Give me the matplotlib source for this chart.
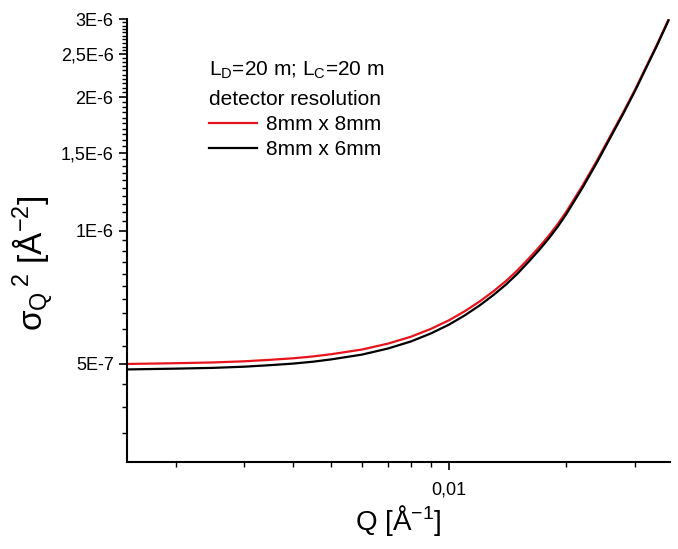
import numpy as np
import matplotlib
matplotlib.use("Agg")
import matplotlib.pyplot as plt
from matplotlib.ticker import FixedLocator, FixedFormatter, NullFormatter

# values
q = [0.0015, 0.002, 0.0025, 0.003, 0.0035, 0.004, 0.0045, 0.005, 0.006, 0.007,
     0.008, 0.009, 0.010, 0.011, 0.012, 0.013, 0.014, 0.015, 0.016, 0.017,
     0.018, 0.019, 0.020, 0.022, 0.024, 0.026, 0.028, 0.030, 0.032, 0.034, 0.0365]
sig_8x8 = [5.00e-7, 5.02e-7, 5.04e-7, 5.07e-7, 5.11e-7, 5.15e-7, 5.20e-7, 5.26e-7, 5.39e-7, 5.56e-7,
           5.76e-7, 6.00e-7, 6.27e-7, 6.58e-7, 6.92e-7, 7.29e-7, 7.69e-7, 8.14e-7, 8.64e-7, 9.16e-7,
           9.72e-7, 1.034e-6, 1.104e-6, 1.264e-6, 1.444e-6, 1.644e-6, 1.854e-6, 2.084e-6, 2.344e-6,
           2.614e-6, 2.994e-6]
sig_8x6 = [4.86e-7, 4.88e-7, 4.90e-7, 4.93e-7, 4.97e-7, 5.01e-7, 5.06e-7, 5.12e-7, 5.25e-7, 5.42e-7,
           5.62e-7, 5.86e-7, 6.13e-7, 6.44e-7, 6.78e-7, 7.15e-7, 7.55e-7, 8.00e-7, 8.50e-7, 9.02e-7,
           9.58e-7, 1.02e-6, 1.09e-6, 1.25e-6, 1.43e-6, 1.63e-6, 1.84e-6, 2.07e-6, 2.33e-6,
           2.60e-6, 2.98e-6]

y_ticks = [5e-7, 1e-6, 1.5e-6, 2e-6, 2.5e-6, 3e-6]
y_labels = ["5E-7", "1E-6", "1,5E-6", "2E-6", "2,5E-6", "3E-6"]
x_ticks = [0.01]
x_labels = ["0,01"]
x_minor = [0.002, 0.003, 0.004, 0.005, 0.006, 0.007, 0.008, 0.009, 0.02, 0.03]

plt.rcParams["font.family"] = ["Liberation Sans", "DejaVu Sans"]
plt.rcParams["mathtext.default"] = "regular"

fig = plt.figure(figsize=(6.78, 5.49), dpi=100)
ax = fig.add_axes([0.187, 0.158, 0.801, 0.807])

ax.plot(q, sig_8x8, color="#e8141c", lw=1.6, label="8mm x 8mm")
ax.plot(q, sig_8x6, color="black", lw=1.6, label="8mm x 6mm")

ax.set_xscale("log")
ax.set_yscale("log")
ax.set_xlim(0.0015, 0.0368)
ax.set_ylim(3e-7, 3e-6)

ax.xaxis.set_major_locator(FixedLocator(x_ticks))
ax.xaxis.set_major_formatter(FixedFormatter(x_labels))
ax.xaxis.set_minor_locator(FixedLocator(x_minor))
ax.xaxis.set_minor_formatter(NullFormatter())

ax.yaxis.set_major_locator(FixedLocator(y_ticks))
ax.yaxis.set_major_formatter(FixedFormatter(y_labels))
y_minor = [v for v in np.arange(3.5e-7, 3e-6, 5e-8)
           if min(abs(v - t) for t in y_ticks) > 1e-8]
ax.yaxis.set_minor_locator(FixedLocator(y_minor))
ax.yaxis.set_minor_formatter(NullFormatter())

for s in ["top", "right"]:
    ax.spines[s].set_visible(False)
for s in ["left", "bottom"]:
    ax.spines[s].set_linewidth(1.5)
ax.tick_params(which="major", direction="out", length=6, width=1.2, labelsize=13)
ax.tick_params(which="minor", direction="out", length=3.5, width=1.0)
ax.tick_params(axis="x", pad=8)

ax.set_xlabel("Q [Å$^{-1}$]", fontsize=20, labelpad=3)
ax.set_ylabel("σ$_Q{}^{\\,2}$ [Å$^{-2}$]", fontsize=24)
ax.yaxis.set_label_coords(-0.13, 0.45)

leg = ax.legend(title="L$_D$=20 m; L$_C$=20 m\ndetector resolution",
                loc="upper left", bbox_to_anchor=(0.152, 0.909), frameon=False,
                fontsize=15, title_fontsize=15, handlelength=2.3,
                handletextpad=0.4, labelspacing=0.3, borderaxespad=0,
                borderpad=0, alignment="left")
leg.get_title().set_linespacing(1.6)

fig.savefig("out.png", dpi=100)
